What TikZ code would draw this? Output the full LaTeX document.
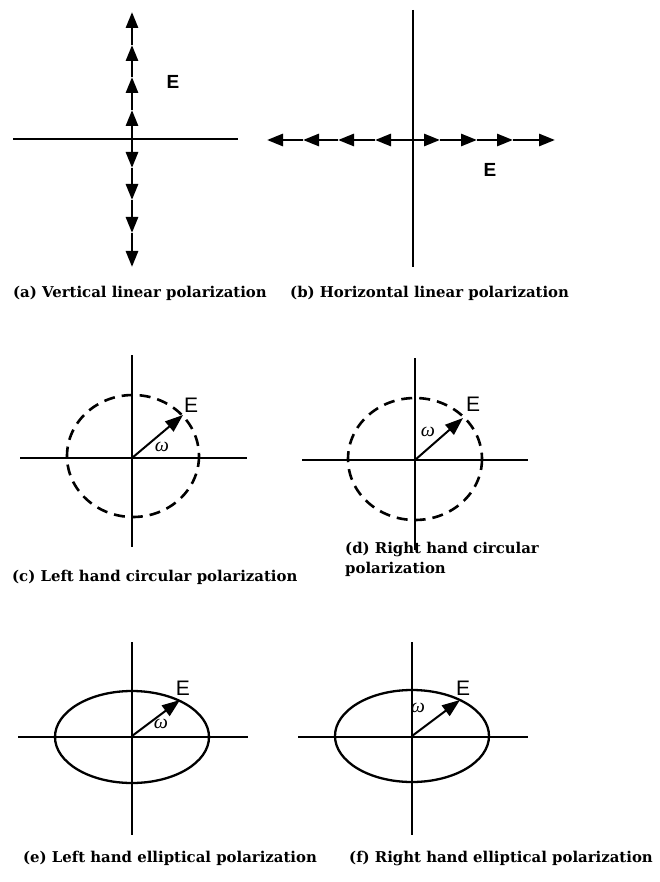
\documentclass[tikz,border=0pt]{standalone}
\usepackage{fontspec}
\setmainfont{DejaVu Serif}
\newfontfamily\capfont{DejaVu Serif}
\newfontfamily\sansfont{Liberation Sans}
\newfontfamily\omfont{Liberation Serif}
\usetikzlibrary{arrows.meta}
\begin{document}
\begin{tikzpicture}[x=1pt,y=-1pt,
  axis/.style={line width=2.8pt},
  thinaxis/.style={line width=1.5pt},
  tipped/.style={line width=2.8pt,-{Triangle[length=16pt,width=12pt]}},
  vecarrow/.style={line width=2pt,-{Triangle[length=18pt,width=13pt]}},
  dashedring/.style={line width=2.6pt,dash pattern=on 11pt off 7pt},
  solidring/.style={line width=2.3pt},
  caption/.style={font=\capfont\bfseries\fontsize{14.9}{20}\selectfont,anchor=base west,inner sep=0pt,align=left},
  elabel/.style={font=\sansfont\fontsize{21}{21}\selectfont,inner sep=0pt},
  eboldlabel/.style={font=\sansfont\bfseries\fontsize{19}{19}\selectfont,inner sep=0pt},
  omlabel/.style={font=\omfont\itshape\fontsize{20}{20}\selectfont,inner sep=0pt}
]
\useasboundingbox (0,0) rectangle (660,882);

% ---------- (a) vertical linear ----------
\coordinate (ac) at (132,139);
\coordinate (aL) at (13,139);
\coordinate (aR) at (238,139);
\coordinate (au1) at (132,110);
\coordinate (au2) at (132,77);
\coordinate (au3) at (132,45);
\coordinate (au4) at (132,12);
\coordinate (ad1) at (132,168);
\coordinate (ad2) at (132,200);
\coordinate (ad3) at (132,233);
\coordinate (ad4) at (132,267);
\draw[axis] (aL) -- (aR);
\draw[tipped] (ac) -- (au1);
\draw[tipped] (au1) -- (au2);
\draw[tipped] (au2) -- (au3);
\draw[tipped] (au3) -- (au4);
\draw[tipped] (ac) -- (ad1);
\draw[tipped] (ad1) -- (ad2);
\draw[tipped] (ad2) -- (ad3);
\draw[tipped] (ad3) -- (ad4);
\node[eboldlabel] (aE) at (173,82) {E};

% ---------- (b) horizontal linear ----------
\coordinate (bc) at (413,140);
\coordinate (bT) at (413,10);
\coordinate (bB) at (413,267);
\coordinate (bl1) at (375,140);
\coordinate (bl2) at (338,140);
\coordinate (bl3) at (303,140);
\coordinate (bl4) at (267,140);
\coordinate (br1) at (440,140);
\coordinate (br2) at (477,140);
\coordinate (br3) at (513,140);
\coordinate (br4) at (555,140);
\draw[axis] (bT) -- (bB);
\draw[tipped] (bc) -- (bl1);
\draw[tipped] (bl1) -- (bl2);
\draw[tipped] (bl2) -- (bl3);
\draw[tipped] (bl3) -- (bl4);
\draw[tipped] (bc) -- (br1);
\draw[tipped] (br1) -- (br2);
\draw[tipped] (br2) -- (br3);
\draw[tipped] (br3) -- (br4);
\node[eboldlabel] (bE) at (490,170) {E};

\node[caption] (capa) at (13,297) {(a) Vertical linear polarization};
\node[caption] (capb) at (290,297) {(b) Horizontal linear polarization};

% ---------- (c) left hand circular ----------
\coordinate (cc) at (132,458);
\draw[thinaxis] (20,458) -- (247,458);
\draw[axis] (132,355) -- (132,547);
\draw[dashedring] (133,456) ellipse [x radius=66, y radius=61];
\coordinate (ctip) at (183,415);
\draw[vecarrow] (cc) -- (ctip);
\node[elabel] (cE) at (191,405) {E};
\node[omlabel] (cw) at (162,447) {ω};

% ---------- (d) right hand circular ----------
\coordinate (dc) at (415,460);
\draw[axis] (302,460) -- (528,460);
\draw[axis] (415,358) -- (415,550);
\draw[dashedring] (415,459) ellipse [x radius=67, y radius=61];
\coordinate (dtip) at (463,418);
\draw[vecarrow] (dc) -- (dtip);
\node[elabel] (dE) at (473,404) {E};
\node[omlabel] (dw) at (428,432) {ω};

\node[caption] (capc) at (12,581) {(c) Left hand circular polarization};
\node[caption] (capd) at (345,573) {(d) Right hand circular\\polarization};

% ---------- (e) left hand elliptical ----------
\coordinate (ec) at (132,736);
\draw[axis] (18,737) -- (248,737);
\draw[axis] (132,642) -- (132,835);
\draw[solidring] (132,737) ellipse [x radius=77, y radius=46];
\coordinate (etip) at (180,700);
\draw[vecarrow] (ec) -- (etip);
\node[elabel] (eE) at (183,688) {E};
\node[omlabel] (ew) at (161,724) {ω};

% ---------- (f) right hand elliptical ----------
\coordinate (fc) at (412,736);
\draw[axis] (298,737) -- (528,737);
\draw[axis] (412,642) -- (412,835);
\draw[solidring] (412,736) ellipse [x radius=77, y radius=46];
\coordinate (ftip) at (460,700);
\draw[vecarrow] (fc) -- (ftip);
\node[elabel] (fE) at (463,688) {E};
\node[omlabel] (fw) at (418,708) {ω};

\node[caption] (cape) at (23,862) {(e) Left hand elliptical polarization};
\node[caption] (capf) at (349,862) {(f) Right hand elliptical polarization};
\end{tikzpicture}
\end{document}
